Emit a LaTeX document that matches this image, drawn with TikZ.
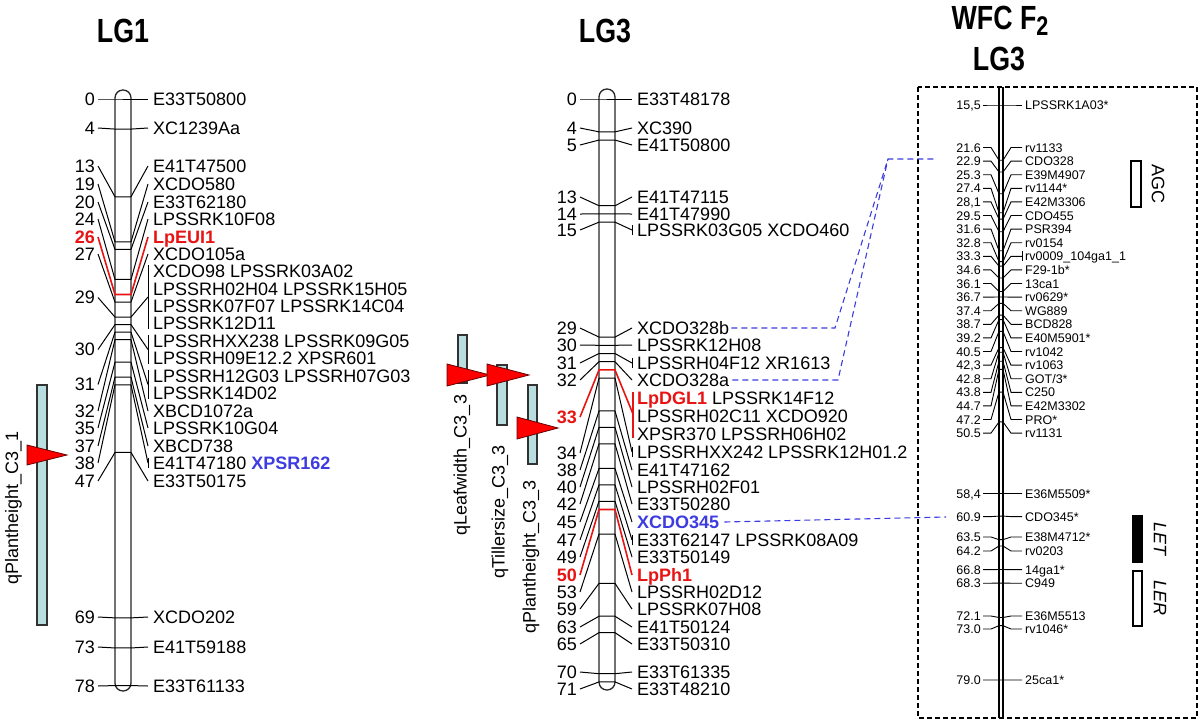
\documentclass[tikz,border=0pt]{standalone}
\usepackage{fontspec}
\setmainfont{Liberation Sans}
\usepackage{graphicx}
\definecolor{xred}{RGB}{232,20,20}
\definecolor{xblue}{RGB}{60,60,225}
\definecolor{qtlfill}{RGB}{184,222,224}
\definecolor{qtlline}{RGB}{50,50,50}
\newcommand\lblfont{\fontsize{18}{21}\selectfont}
\newcommand\pnlfont{\fontsize{12.5}{14}\selectfont}
\newcommand\ttlfont{\fontsize{33.5}{36}\selectfont\bfseries}
\begin{document}
\begin{tikzpicture}[x=1pt,y=-1pt,
 num/.style={anchor=east,inner sep=0pt,text height=12.9pt,text depth=0pt,font=\lblfont},
 lab/.style={anchor=west,inner sep=0pt,text height=12.9pt,text depth=0pt,font=\lblfont},
 rednum/.style={num,text=xred,font=\lblfont\bfseries},
 redlab/.style={lab,text=xred,font=\lblfont\bfseries},
 pnum/.style={anchor=east,inner sep=0pt,text height=9pt,text depth=0pt,font=\pnlfont},
 plab/.style={anchor=west,inner sep=0pt,text height=9pt,text depth=0pt,font=\pnlfont},
 tick/.style={line width=1pt,black},
 ptick/.style={line width=0.9pt,black},
 redtick/.style={line width=1.6pt,xred},
 chrom/.style={line width=1.3pt,draw=black!85,fill=white,rounded corners=7.9pt},
 qbar/.style={draw=qtlline,fill=qtlfill,line width=1.4pt},
 qtri/.style={draw=black!60!red,fill=red,line width=0.8pt},
 qlab/.style={rotate=90,inner sep=0pt,font=\lblfont},
 link/.style={xblue,line width=1.1pt,dash pattern=on 6pt off 4pt},
 ttl/.style={inner sep=0pt,anchor=base,font=\ttlfont},
 sidebox/.style={draw=black,line width=1.5pt},
 sidelab/.style={rotate=-90,inner sep=0pt,font=\fontsize{18}{20}\selectfont},
]
\useasboundingbox (0,0) rectangle (1200,721);

% ---------- titles ----------
\node[ttl] (t1) at (123,42) {\scalebox{0.8}[1]{LG1}};
\node[ttl] (t3) at (605,42) {\scalebox{0.8}[1]{LG3}};
\node[ttl] (tw) at (1000,29) {\scalebox{0.8}[1]{WFC F\raisebox{-0.2em}{\fontsize{27}{27}\selectfont 2}}};
\node[ttl] (tw3) at (999,70) {\scalebox{0.8}[1]{LG3}};

% ---------- QTL bars ----------
\draw[qbar] (37,385) rectangle (47,625);
\filldraw[qtri] (27,445) -- (27,465) -- (67,455) -- cycle;
\node[qlab] (q1) at (13.5,508) {qPlantheight\_C3\_1};

\draw[qbar] (458,335) rectangle (467,383);
\draw[qbar] (497,365) rectangle (507,425);
\draw[qbar] (528,385) rectangle (537,464);
\filldraw[qtri] (447,364) -- (447,386) -- (490,375) -- cycle;
\filldraw[qtri] (487,364) -- (487,386) -- (529,375) -- cycle;
\filldraw[qtri] (517,417) -- (517,439) -- (558,428) -- cycle;
\node[qlab] (q2) at (462,465) {qLeafwidth\_C3\_3};
\node[qlab] (q3) at (500,512) {qTillersize\_C3\_3};
\node[qlab] (q4) at (531,557) {qPlantheight\_C3\_3};

% ---------- LG1 ----------
\draw[chrom] (115,90) rectangle (131,691);
\foreach \c/\r in {0/99,4/128,13/166,19/184,20/202,24/219,27/254,29/297.5,30/349.5,31/384.5,32/411,35/428,37/446,38/463,47/481,69/617,73/647,78/686}{
  \node[num] (La\c) at (95,\r) {\c};
  \draw[tick] ([xshift=3pt]La\c.east) -- (115,{99+7.52*\c}) -- (131,{99+7.52*\c});
}
\foreach \c/\r in {0/99,4/128,13/166,19/184,20/202,24/219,27/254,29/297,30/349.5,31/384.5,32/411,35/428,37/446,38/463,47/481,69/617,73/647,78/686}{
  \draw[tick] (131,{99+7.52*\c}) -- (148,\r);
}
\foreach \r/\t [count=\i] in {99/E33T50800,128/XC1239Aa,166/E41T47500,184/XCDO580,202/E33T62180,219/LPSSRK10F08,254/XCDO105a,271/XCDO98 LPSSRK03A02,289/LPSSRH02H04 LPSSRK15H05,306/LPSSRK07F07 LPSSRK14C04,323/LPSSRK12D11,341/LPSSRHXX238 LPSSRK09G05,358/LPSSRH09E12.2 XPSR601,376/LPSSRH12G03 LPSSRH07G03,393/LPSSRK14D02,411/XBCD1072a,428/LPSSRK10G04,446/XBCD738,481/E33T50175,617/XCDO202,647/E41T59188,686/E33T61133}{
  \node[lab] (Lb\i) at (153,\r) {\t};
}
\node[lab] (LbPSR) at (153,463) {E41T47180 {\color{xblue}\bfseries XPSR162}};
\draw[tick] (148,265) -- (148,329);
\draw[tick] (148,335) -- (148,364);
\draw[tick] (148,370) -- (148,399);
\draw[tick] (148,458) -- (148,468);
\node[rednum] (La26) at (95,237) {26};
\node[redlab] (LbEUI) at (153,237) {LpEUI1};
\draw[redtick] ([xshift=3pt]La26.east) -- (115,{99+7.52*26}) -- (131,{99+7.52*26}) -- ([xshift=-5pt]LbEUI.west);

% ---------- LG3 ----------
\draw[chrom] (599,89) rectangle (615,690);
\foreach \c/\r in {0/99,4/128,5/145,13/197,14/214,15/230,29/328,30/345,31/363,32/380,34/453,38/470,40/487,42/504,45/522,47/540,49/557,53/592,59/609,63/627,65/644,70/672,71/689}{
  \node[num] (Ra\c) at (577,\r) {\c};
  \draw[tick] ([xshift=3pt]Ra\c.east) -- (599,{99+8.21*\c}) -- (615,{99+8.21*\c});
}
\foreach \c/\r in {0/99,4/128,5/145,13/197,14/214,15/230,29/328,30/345,31/363,32/380,34/452,38/470,40/487,42/504,45/522,47/540,49/557,53/592,59/609,63/627,65/644,70/672,71/689}{
  \draw[tick] (615,{99+8.21*\c}) -- (632,\r);
}
\foreach \r/\t [count=\i] in {99/E33T48178,128/XC390,145/E41T50800,197/E41T47115,214/E41T47990,230/LPSSRK03G05 XCDO460,345/LPSSRK12H08,363/LPSSRH04F12 XR1613,416/LPSSRH02C11 XCDO920,434/XPSR370 LPSSRH06H02,452/LPSSRHXX242 LPSSRK12H01.2,470/E41T47162,487/LPSSRH02F01,504/E33T50280,540/E33T62147 LPSSRK08A09,557/E33T50149,592/LPSSRH02D12,609/LPSSRK07H08,627/E41T50124,644/E33T50310,672/E33T61335,689/E33T48210}{
  \node[lab] (Rb\i) at (637,\r) {\t};
}
\node[lab] (x328b) at (637,328) {XCDO328b};
\node[lab] (x328a) at (637,380) {XCDO328a};
\node[lab] (xdgl) at (637,398) {{\color{xred}\bfseries LpDGL1} LPSSRK14F12};
\node[lab,text=xblue,font=\lblfont\bfseries] (x345) at (637,522) {XCDO345};
\draw[tick] (632,225) -- (632,235);
\draw[tick] (632,358) -- (632,368);
\draw[tick] (632,447) -- (632,457);
\draw[tick] (632,535) -- (632,545);
\node[rednum] (Ra33) at (577,417) {33};
\draw[redtick] ([xshift=3pt]Ra33.east) -- (599,{99+8.21*33}) -- (615,{99+8.21*33}) -- (633,414);
\draw[redtick] (633,392) -- (633,438);
\node[rednum] (Ra50) at (577,575) {50};
\node[redlab] (xph) at (637,575) {LpPh1};
\draw[redtick] ([xshift=3pt]Ra50.east) -- (599,{99+8.21*50}) -- (615,{99+8.21*50}) -- ([xshift=-5pt]xph.west);

% ---------- WFC F2 panel ----------
\draw[line width=1.2pt,dash pattern=on 5pt off 3pt] (918,87) rectangle (1197,718);
\draw[line width=1.2pt] (999,87) -- (999,718);
\draw[line width=1.2pt] (1003,87) -- (1003,718);
\foreach \v/\n/\m/\r [count=\i] in {15.5/15{,}5/LPSSRK1A03*/105,
 21.6/21.6/rv1133/147.5, 22.9/22.9/CDO328/161.1, 25.3/25.3/E39M4907/174.7,
 27.4/27.4/rv1144*/188.3, 28.1/28{,}1/E42M3306/201.9, 29.5/29.5/CDO455/215.5,
 31.6/31.6/PSR394/229.1, 32.8/32.8/rv0154/242.7, 33.3/33.3/rv0009\_104ga1\_1/256.3,
 34.6/34.6/F29-1b*/269.9, 36.1/36.1/13ca1/283.5, 36.7/36.7/rv0629*/297.1,
 37.4/37.4/WG889/310.7, 38.7/38.7/BCD828/324.3, 39.2/39.2/E40M5901*/337.9,
 40.5/40.5/rv1042/351.5, 42.3/42{,}3/rv1063/365.1, 42.8/42.8/GOT{/}3*/378.7,
 43.8/43.8/C250/392.3, 44.7/44.7/E42M3302/405.9, 47.2/47.2/PRO*/419.5,
 50.5/50.5/rv1131/433.1, 58.4/58{,}4/E36M5509*/493.5, 60.9/60.9/CDO345*/516.6,
 63.5/63.5/E38M4712*/537, 64.2/64.2/rv0203/551, 66.8/66.8/14ga1*/569.6,
 68.3/68.3/C949/583.2, 72.1/72.1/E36M5513/616, 73.0/73.0/rv1046*/629,
 79.0/79.0/25ca1*/680}{
  \node[pnum] (Pn\i) at (981,\r) {\n};
  \node[plab] (Pm\i) at (1025,\r) {\m};
  \draw[ptick] ([xshift=2pt]Pn\i.east) -- (991,\r) -- (999,{105+9.055*(\v-15.5)}) -- (1003,{105+9.055*(\v-15.5)}) -- (1011,\r) -- ([xshift=-3pt]Pm\i.west);
}
\draw[ptick] (1022,251) -- (1022,261);

\draw[sidebox,fill=white] (1131,161) rectangle (1141,207);
\node[sidelab] (agc) at (1158,184) {AGC};
\draw[sidebox,fill=black] (1133,516) rectangle (1142,562);
\node[sidelab,font=\fontsize{18}{20}\selectfont\itshape] (let) at (1160,539) {LET};
\draw[sidebox,fill=white] (1133,571) rectangle (1142,626);
\node[sidelab,font=\fontsize{18}{20}\selectfont\itshape] (ler) at (1160,598) {LER};

% ---------- links ----------
\coordinate (j1) at (835,328);
\coordinate (j2) at (838,380);
\coordinate (jt) at (888,159);
\coordinate (e1) at (936,159);
\coordinate (e2) at (946,517);
\draw[link] ([xshift=2pt]x328b.east) -- (j1) -- (jt) -- (e1);
\draw[link] ([xshift=3pt]x328a.east) -- (j2) -- (jt);
\draw[link] ([xshift=5pt]x345.east) -- (e2);
\end{tikzpicture}
\end{document}
